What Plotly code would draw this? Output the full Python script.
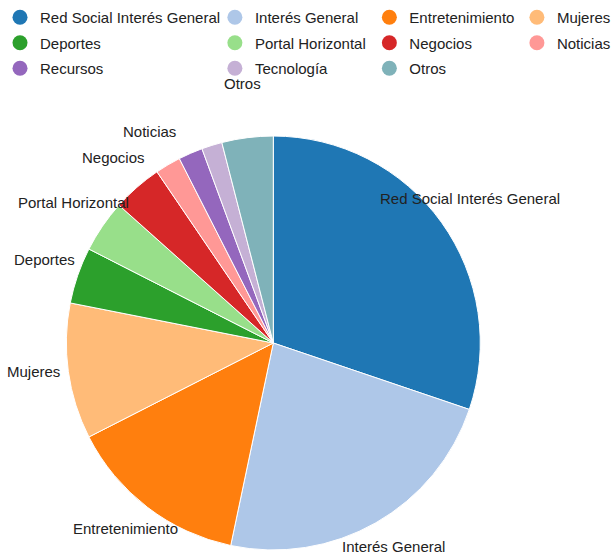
import math
import plotly.graph_objects as go

# ---- data ----
categories = ["Red Social Interés General", "Interés General", "Entretenimiento", "Mujeres",
              "Deportes", "Portal Horizontal", "Negocios", "Noticias", "Recursos",
              "Tecnología", "Otros"]
values = [30.2, 23.1, 14.2, 10.6, 4.4, 4.1, 3.9, 2.0, 1.9, 1.6, 4.0]
colors = ["#1f77b4", "#aec7e8", "#ff7f0e", "#ffbb78", "#2ca02c", "#98df8a",
          "#d62728", "#ff9896", "#9467bd", "#c5b0d5", "#7fb2b9"]

W, H = 616, 559
cx, cy, R = 276, 343, 205
DR = R + 4  # domain half-size (plotly draws the pie slightly inside its domain)
FONT = "Arial, Liberation Sans, sans-serif"
TXT = "#222222"

fig = go.Figure()
fig.add_trace(go.Pie(
    labels=categories, values=values, sort=False, direction="clockwise", rotation=0,
    marker=dict(colors=colors, line=dict(color="white", width=1)),
    textinfo="none", hoverinfo="label+value", showlegend=False,
    domain=dict(x=[(cx - DR) / W, (cx + DR) / W], y=[1 - (cy + DR) / H, 1 - (cy - DR) / H]),
))

# legend entries arranged in 4 columns (one legend per column)
legend_ids = ["legend", "legend2", "legend3", "legend4"]
for i, (name, col) in enumerate(zip(categories, colors)):
    fig.add_trace(go.Scatter(
        x=[None], y=[None], mode="markers", name=name,
        marker=dict(color=col, size=15, symbol="circle"),
        legend=legend_ids[i % 4], legendgroup=name, showlegend=True,
    ))

col_text_x = [40, 257, 413, 562]
leg_common = dict(orientation="v", xanchor="left", yanchor="top", y=1 - 1 / H,
                  bgcolor="rgba(0,0,0,0)", font=dict(family=FONT, size=15, color=TXT),
                  tracegroupgap=3, itemclick=False, itemdoubleclick=False)
layout_legends = {}
for lid, tx in zip(legend_ids, col_text_x):
    layout_legends[lid] = dict(leg_common, x=(tx - 40) / W)

# outside labels (shown for slices >= 2%), with simple overlap avoidance
total = sum(values)
annotations = []
placed = []
cum = 0.0
lrx, lry = 245, 240
for name, v in zip(categories, values):
    mid = (cum + v / 2) / total * 2 * math.pi
    cum += v
    lx = cx + lrx * math.sin(mid)
    ly = cy - lry * math.cos(mid) - 5
    moved = True
    while moved:
        moved = False
        for px, py in placed:
            if abs(px - lx) < 50 and abs(py - ly) < 11:
                ly -= 8
                moved = True
    placed.append((lx, ly))
    if v / total >= 0.02 - 1e-9:
        annotations.append(dict(
            x=lx / W, y=1 - ly / H, xref="paper", yref="paper", text=name,
            showarrow=False, xanchor="center", yanchor="middle",
            font=dict(family=FONT, size=15, color=TXT),
        ))

fig.update_layout(
    width=W, height=H, margin=dict(l=0, r=0, t=0, b=0),
    paper_bgcolor="white", plot_bgcolor="white",
    xaxis=dict(visible=False), yaxis=dict(visible=False),
    annotations=annotations,
    **layout_legends,
)
fig.write_html(
    "out.html",
    config={"displayModeBar": False},
    post_script="document.body.style.margin='0';document.documentElement.style.overflow='hidden';",
)
